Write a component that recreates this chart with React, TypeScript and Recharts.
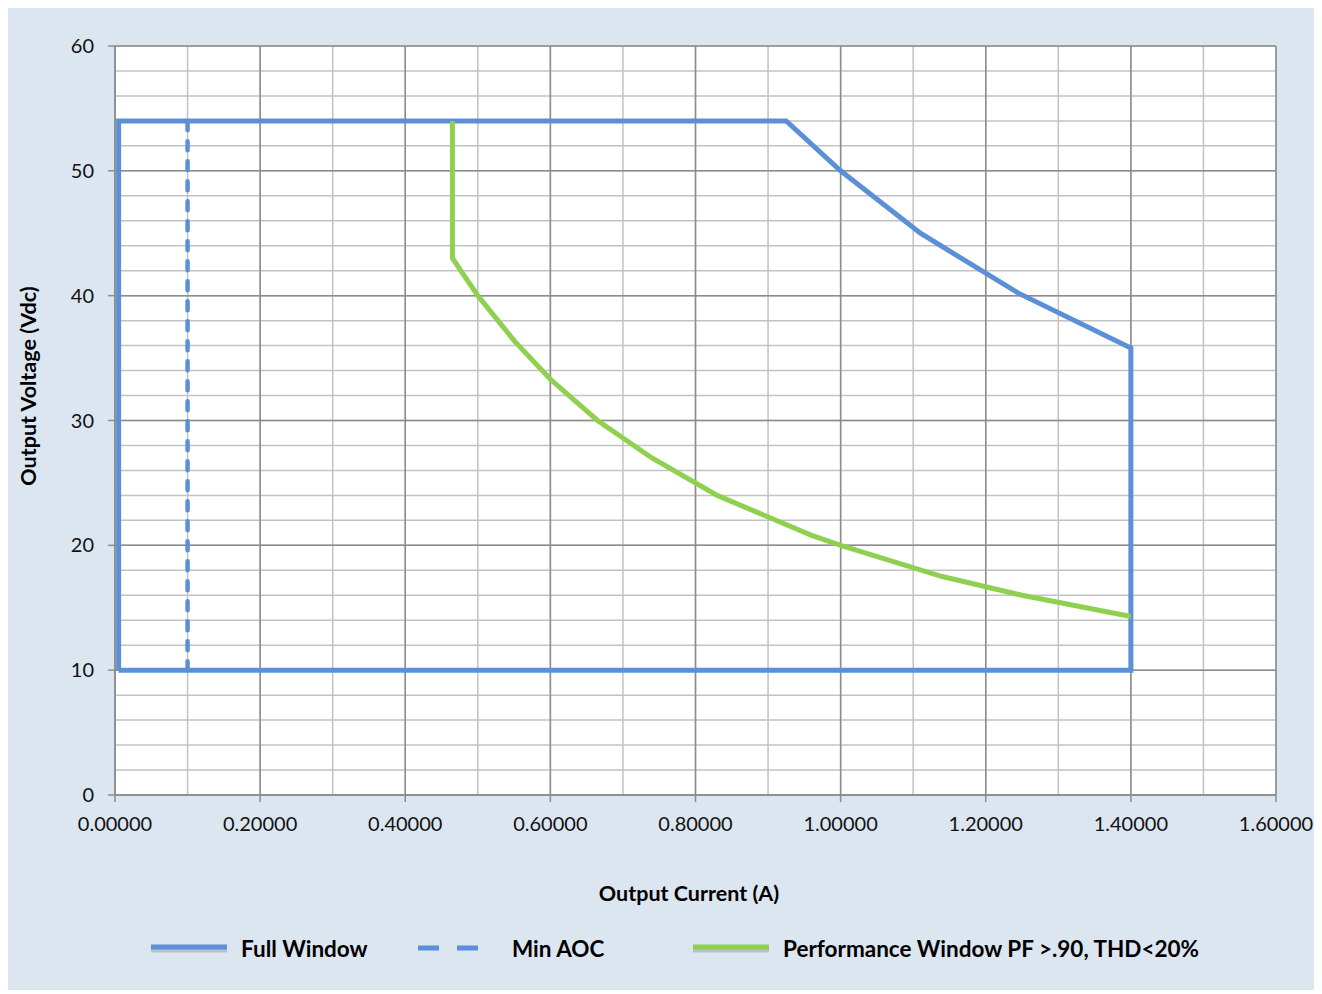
import { ComposedChart, Line, XAxis, YAxis, CartesianGrid } from "recharts";

// Full operating window (closed outline)
const fullWindowCurrent = [0.005, 0.005, 0.925, 1.0, 1.11, 1.245, 1.4, 1.4, 0.005];
const fullWindowVoltage = [10, 54, 54, 50, 45, 40.2, 35.8, 10, 10];

// Minimum AOC marker
const minAocCurrent = [0.1, 0.1];
const minAocVoltage = [10, 54];

// Performance window PF > .90, THD < 20%
const perfCurrent = [0.465, 0.465, 0.5, 0.55, 0.6, 0.665, 0.74, 0.83, 0.96, 1.0, 1.14, 1.25, 1.4];
const perfVoltage = [54, 43, 40, 36.4, 33.3, 30, 27, 24, 20.8, 20, 17.5, 16, 14.3];

const xTicks = [0, 0.2, 0.4, 0.6, 0.8, 1.0, 1.2, 1.4, 1.6];
const xMinor = [0, 0.1, 0.2, 0.3, 0.4, 0.5, 0.6, 0.7, 0.8, 0.9, 1.0, 1.1, 1.2, 1.3, 1.4, 1.5, 1.6];
const yTicks = [0, 10, 20, 30, 40, 50, 60];
const yMinor = [0, 2, 4, 6, 8, 10, 12, 14, 16, 18, 20, 22, 24, 26, 28, 30, 32, 34, 36, 38, 40, 42, 44, 46, 48, 50, 52, 54, 56, 58, 60];

const toPoints = (xs: number[], ys: number[]) => xs.map((x, i) => ({ x, y: ys[i] }));

const BLUE = "#5b8fd7";
const GREEN = "#8fd14f";
const FONT = "Lato, 'Open Sans', sans-serif";

const LegendItem = ({ color, dashed, label, left, textLeft }: any) => (
  <>
    <svg style={{ position: "absolute", left, top: 935 }} width={80} height={16}>
      {dashed ? (
        <line x1={4} y1={8} x2={64} y2={8} stroke={color} strokeWidth={5} strokeDasharray="21 18" />
      ) : (
        <>
          <line x1={2} y1={10} x2={78} y2={10} stroke="#b8c0cc" strokeWidth={5} />
          <line x1={2} y1={7} x2={78} y2={7} stroke={color} strokeWidth={5} />
        </>
      )}
    </svg>
    <div
      style={{
        position: "absolute",
        left: textLeft,
        top: 930,
        fontFamily: FONT,
        fontWeight: 700,
        fontSize: 22.5,
        color: "#000",
        whiteSpace: "nowrap",
      }}
    >
      {label}
    </div>
  </>
);

export default function App() {
  return (
    <div
      style={{
        position: "relative",
        width: 1310,
        height: 985,
        marginTop: -3,
        background: "#dce6f1",
      }}
    >
      <ComposedChart
        width={1310}
        height={985}
        margin={{ top: 41, right: 42, bottom: 135, left: 47 }}
      >
        <CartesianGrid
          fill="#ffffff"
          stroke="#c2c2c2"
          strokeWidth={1.5}
          verticalValues={xMinor}
          horizontalValues={yMinor}
        />
        <CartesianGrid
          stroke="#8c8c8c"
          strokeWidth={1.5}
          fillOpacity={0}
          verticalValues={xTicks}
          horizontalValues={yTicks}
        />
        <XAxis
          type="number"
          dataKey="x"
          domain={[0, 1.6]}
          ticks={xTicks}
          allowDataOverflow
          height={60}
          tickFormatter={(v: number) => v.toFixed(5)}
          tick={{ fill: "#111", fontSize: 20, fontFamily: FONT }}
          stroke="#8c8c8c"
          strokeWidth={1.5}
          tickSize={7}
          tickMargin={15}
        />
        <YAxis
          type="number"
          dataKey="y"
          domain={[0, 60]}
          ticks={yTicks}
          allowDataOverflow
          width={60}
          tick={{ fill: "#111", fontSize: 20, fontFamily: FONT }}
          stroke="#8c8c8c"
          strokeWidth={1.5}
          tickSize={7}
          tickMargin={14}
        />
        <Line
          data={toPoints(fullWindowCurrent, fullWindowVoltage)}
          dataKey="y"
          type="linear"
          stroke={BLUE}
          strokeWidth={5}
          dot={false}
          activeDot={false}
          isAnimationActive={false}
        />
        <Line
          data={toPoints(minAocCurrent, minAocVoltage)}
          dataKey="y"
          type="linear"
          stroke={BLUE}
          strokeWidth={4.5}
          strokeDasharray="9 11"
          strokeLinecap="round"
          dot={false}
          activeDot={false}
          isAnimationActive={false}
        />
        <Line
          data={toPoints(perfCurrent, perfVoltage)}
          dataKey="y"
          type="linear"
          stroke={GREEN}
          strokeWidth={5}
          dot={false}
          activeDot={false}
          isAnimationActive={false}
        />
      </ComposedChart>

      <div
        style={{
          position: "absolute",
          left: 20,
          top: 381,
          transform: "translate(-50%, -50%) rotate(-90deg)",
          fontFamily: FONT,
          fontWeight: 700,
          fontSize: 21.5,
          whiteSpace: "nowrap",
          color: "#000",
        }}
      >
        Output Voltage (Vdc)
      </div>
      <div
        style={{
          position: "absolute",
          left: 681,
          top: 888,
          transform: "translate(-50%, -50%)",
          fontFamily: FONT,
          fontWeight: 700,
          fontSize: 21.5,
          whiteSpace: "nowrap",
          color: "#000",
        }}
      >
        Output Current (A)
      </div>

      <LegendItem color={BLUE} label="Full Window" left={141} textLeft={233} />
      <LegendItem color={BLUE} dashed label="Min AOC" left={406} textLeft={504} />
      <LegendItem color={GREEN} label="Performance Window PF >.90, THD<20%" left={683} textLeft={775} />
    </div>
  );
}
